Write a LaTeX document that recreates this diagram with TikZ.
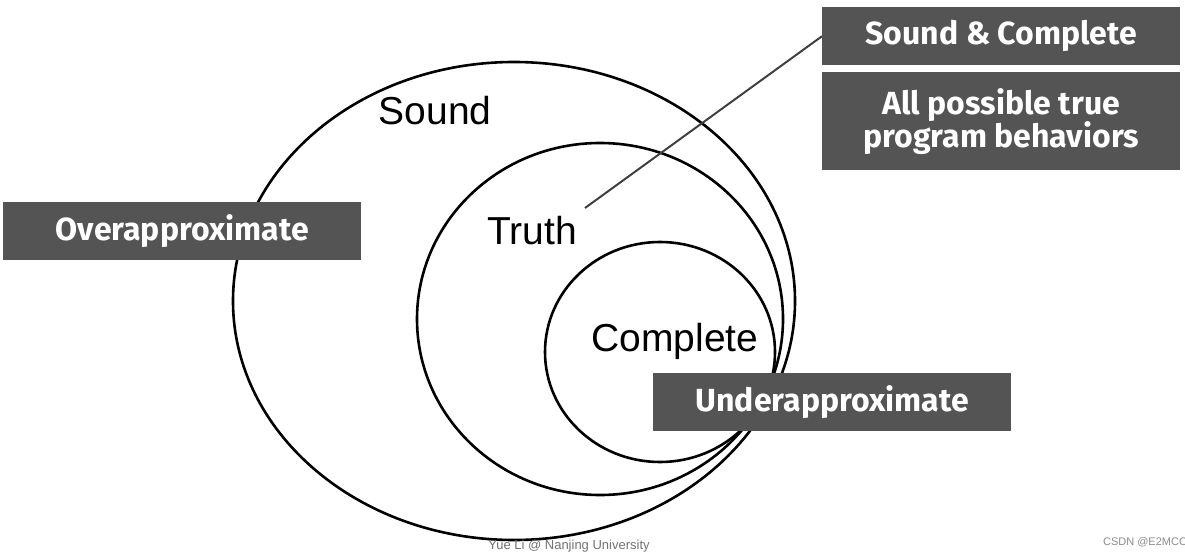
\documentclass[tikz,border=0pt]{standalone}
\usepackage{fontspec}
\setmainfont{Liberation Sans}
\newfontfamily\boxfont{Fira Sans}
\begin{document}
\begin{tikzpicture}[x=1pt,y=-1pt,
  circ/.style={draw=black,line width=2.6pt},
  lab/.style={fill=black!67,text=white,font=\boxfont\bfseries\fontsize{32}{35}\selectfont,minimum width=358pt,inner sep=0pt,align=center},
  word/.style={font=\fontsize{39}{42}\selectfont}]
\useasboundingbox (0,0) rectangle (1185,556);
\fill[white] (0,0) rectangle (1185,556);
\draw[circ] (514,301) ellipse [x radius=281,y radius=239];
\draw[circ] (600,319) ellipse [x radius=183,y radius=176];
\draw[circ] (660,352) ellipse [x radius=115,y radius=110];
\node[word] (sound) at (435,111) {Sound};
\node[word] (truth) at (532,231) {Truth};
\node[word] (comp) at (675,341) {Complete};
\coordinate (tip) at (585,208);
\node[lab,minimum height=58pt,anchor=north west] (sc) at (822,7) {Sound \& Complete};
\node[lab,minimum height=98pt,anchor=north west] (all) at (822,72) {All possible true\\[-2pt]program behaviors};
\node[lab,minimum height=58pt,anchor=north west] (over) at (3,202) {Overapproximate};
\node[lab,minimum height=58pt,anchor=north west] (under) at (653,373) {Underapproximate};
\draw[line width=2pt,black!75] (tip) -- (sc.west);
\node[text=black!55,font=\fontsize{13}{15}\selectfont] (foot) at (569,546) {Yue Li @ Nanjing University};
\node[text=black!45,font=\fontsize{11}{13}\selectfont] (csdn) at (1145,542) {CSDN @E2MCC};
\end{tikzpicture}
\end{document}
